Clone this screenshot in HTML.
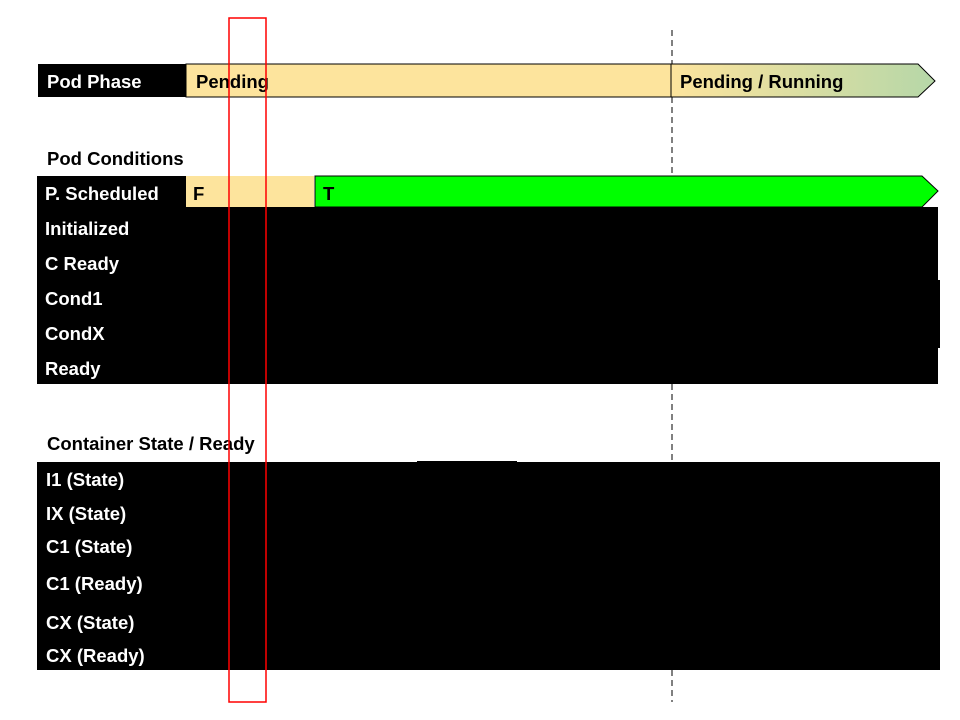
<!DOCTYPE html>
<html><head><meta charset="utf-8"><style>
body{margin:0;background:#fff}
svg{display:block;font-family:"Liberation Sans",Arial,sans-serif;font-weight:bold;font-size:18.5px}
</style></head><body>
<svg width="960" height="720" viewBox="0 0 960 720">
<defs><linearGradient id="g" x1="0" x2="1"><stop offset="0" stop-color="#fde49d"/><stop offset="1" stop-color="#b6d7a8"/></linearGradient></defs>
<rect x="38" y="64" width="148" height="33" fill="#000"/>
<text x="47" y="88" fill="#fff">Pod Phase</text>
<rect x="186" y="64" width="485" height="33" fill="#fde49d" stroke="#000" stroke-width="1"/>
<text x="196" y="88" fill="#000">Pending</text>
<polygon points="671,64 918,64 935,81 918,97 671,97" fill="url(#g)" stroke="#000" stroke-width="1"/>
<text x="680" y="88" fill="#000">Pending / Running</text>
<text x="47" y="165" fill="#000">Pod Conditions</text>
<rect x="37" y="176" width="149" height="31" fill="#000"/>
<rect x="186" y="176" width="128" height="31" fill="#fde49d"/>
<polygon points="315,176 922,176 938,191 922,207 315,207" fill="#00ff00" stroke="#000" stroke-width="1"/>
<text x="45" y="200" fill="#fff">P. Scheduled</text>
<text x="193" y="200" fill="#000">F</text>
<text x="323" y="200" fill="#000">T</text>
<rect x="37" y="207" width="901" height="177" fill="#000"/>
<rect x="900" y="280" width="40" height="68" fill="#000"/>
<text x="45" y="235" fill="#fff">Initialized</text>
<text x="45" y="270" fill="#fff">C Ready</text>
<text x="45" y="305" fill="#fff">Cond1</text>
<text x="45" y="340" fill="#fff">CondX</text>
<text x="45" y="375" fill="#fff">Ready</text>
<text x="47" y="450" fill="#000">Container State / Ready</text>
<rect x="417" y="461" width="100" height="3" fill="#000"/>
<rect x="37" y="462" width="903" height="208" fill="#000"/>
<text x="46" y="486" fill="#fff">I1 (State)</text>
<text x="46" y="520" fill="#fff">IX (State)</text>
<text x="46" y="553" fill="#fff">C1 (State)</text>
<text x="46" y="590" fill="#fff">C1 (Ready)</text>
<text x="46" y="629" fill="#fff">CX (State)</text>
<text x="46" y="662" fill="#fff">CX (Ready)</text>
<line x1="672" y1="30" x2="672" y2="64" stroke="#000" stroke-dasharray="6,4"/>
<line x1="672" y1="97" x2="672" y2="176" stroke="#000" stroke-dasharray="6,4"/>
<line x1="672" y1="384" x2="672" y2="462" stroke="#000" stroke-dasharray="6,4"/>
<line x1="672" y1="670" x2="672" y2="702" stroke="#000" stroke-dasharray="6,4"/>
<rect x="229" y="18" width="37" height="684" fill="none" stroke="#ff0000" stroke-width="1.5"/>
</svg>
</body></html>
